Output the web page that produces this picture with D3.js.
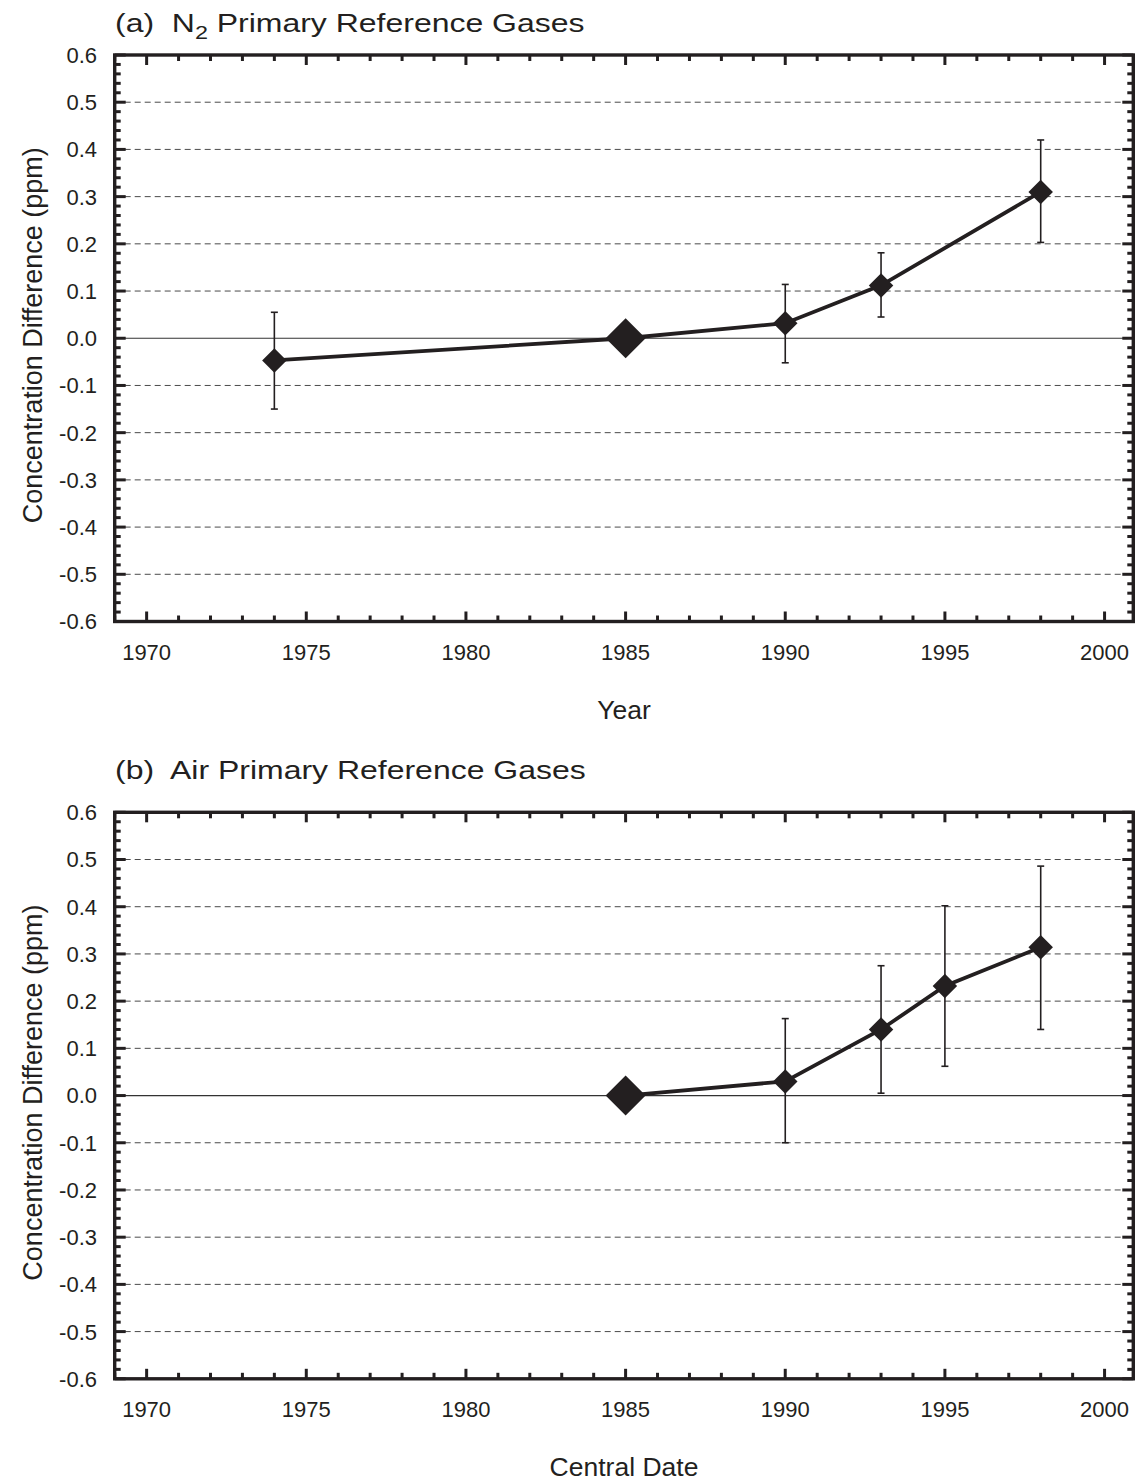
<!DOCTYPE html>
<html>
<head>
<meta charset="utf-8">
<script src="https://cdn.jsdelivr.net/npm/d3@7"></script>
<style>
  body { margin: 0; background: #fff; }
  svg { display: block; font-family: "Liberation Sans", Arial, sans-serif; }
  .title { white-space: pre; }
</style>
</head>
<body>
<div id="chart"></div>
<script>
// DATA
const yearTicks = [1970, 1975, 1980, 1985, 1990, 1995, 2000];
const diffTicks = [0.6, 0.5, 0.4, 0.3, 0.2, 0.1, 0.0, -0.1, -0.2, -0.3, -0.4, -0.5, -0.6];

const n2Year = [1974, 1985, 1990, 1993, 1998];
const n2Diff = [-0.047, 0.0, 0.032, 0.112, 0.31];
const n2Lo = [-0.15, null, -0.052, 0.045, 0.203];
const n2Hi = [0.055, null, 0.114, 0.181, 0.42];

const airYear = [1985, 1990, 1993, 1995, 1998];
const airDiff = [0.0, 0.03, 0.14, 0.232, 0.314];
const airLo = [null, -0.1, 0.005, 0.062, 0.14];
const airHi = [null, 0.163, 0.275, 0.402, 0.486];

const refYear = 1985; // reference point drawn as big diamond

const ink = "#231f20";
const width = 1140,
  height = 1482;

const svg = d3
  .select("#chart")
  .append("svg")
  .attr("width", width)
  .attr("height", height);

const toRows = (yr, v, lo, hi) =>
  yr.map((d, i) => ({ year: d, value: v[i], lo: lo[i], hi: hi[i] }));

const panels = [
  {
    top: 55,
    titleY: 32,
    title: ["(a)  N", "2", " Primary Reference Gases"],
    xLabel: "Year",
    rows: toRows(n2Year, n2Diff, n2Lo, n2Hi),
  },
  {
    top: 812.3,
    titleY: 778.5,
    title: ["(b)  Air Primary Reference Gases"],
    xLabel: "Central Date",
    rows: toRows(airYear, airDiff, airLo, airHi),
  },
];

const fmt = (d) => d3.format(".1f")(d).replace("−", "-");

function drawPanel(p) {
  const left = 114.7,
    right = 1133.3,
    top = p.top,
    bottom = p.top + 566.5;

  const x = d3.scaleLinear().domain([1969, 2000.9]).range([left, right]);
  const y = d3.scaleLinear().domain([-0.6, 0.6]).range([bottom, top]);

  const g = svg.append("g");

  // grid lines
  g.selectAll("line.grid")
    .data(diffTicks.filter((d) => Math.abs(d) < 0.55 && d !== 0))
    .join("line")
    .attr("class", "grid")
    .attr("x1", left)
    .attr("x2", right)
    .attr("y1", (d) => y(d))
    .attr("y2", (d) => y(d))
    .attr("stroke", "#4a4a4a")
    .attr("stroke-width", 1)
    .attr("stroke-dasharray", "6,4");

  g.append("line")
    .attr("x1", left)
    .attr("x2", right)
    .attr("y1", y(0))
    .attr("y2", y(0))
    .attr("stroke", "#333")
    .attr("stroke-width", 1.2);

  // inward ticks on all four sides
  const minorY = d3.range(-30, 31).map((i) => i * 0.02);
  const minorX = d3.range(1969, 2001);

  const tickLayer = g.append("g").attr("stroke", ink).attr("stroke-width", 3);

  const yTicks = [
    { side: left, dir: 1 },
    { side: right, dir: -1 },
  ];
  yTicks.forEach((s) => {
    tickLayer
      .append("g")
      .selectAll("line")
      .data(minorY)
      .join("line")
      .attr("x1", s.side)
      .attr("x2", (d) => {
        const major = Math.abs(Math.round(d * 10) - d * 10) < 1e-6;
        return s.side + s.dir * (major ? 11 : 6);
      })
      .attr("y1", (d) => y(d))
      .attr("y2", (d) => y(d));
  });

  const xTicks = [
    { side: bottom, dir: -1 },
    { side: top, dir: 1 },
  ];
  xTicks.forEach((s) => {
    tickLayer
      .append("g")
      .selectAll("line")
      .data(minorX)
      .join("line")
      .attr("x1", (d) => x(d))
      .attr("x2", (d) => x(d))
      .attr("y1", s.side)
      .attr("y2", (d) => s.side + s.dir * (d % 5 === 0 ? 10 : 6));
  });

  // frame
  g.append("rect")
    .attr("x", left)
    .attr("y", top)
    .attr("width", right - left)
    .attr("height", bottom - top)
    .attr("fill", "none")
    .attr("stroke", ink)
    .attr("stroke-width", 3.4);

  // tick labels
  g.append("g")
    .selectAll("text")
    .data(diffTicks)
    .join("text")
    .attr("x", 97)
    .attr("y", (d) => y(d))
    .attr("dy", "0.36em")
    .attr("text-anchor", "end")
    .attr("font-size", 22)
    .attr("fill", ink)
    .text(fmt);

  g.append("g")
    .selectAll("text")
    .data(yearTicks)
    .join("text")
    .attr("x", (d) => x(d))
    .attr("y", bottom + 38.5)
    .attr("text-anchor", "middle")
    .attr("font-size", 22)
    .attr("fill", ink)
    .text((d) => d);

  // axis titles
  g.append("text")
    .attr("transform", `translate(41.5,${(top + bottom) / 2 - 3}) rotate(-90)`)
    .attr("text-anchor", "middle")
    .attr("font-size", 27)
    .attr("fill", ink)
    .text("Concentration Difference (ppm)");

  g.append("text")
    .attr("x", 624)
    .attr("y", bottom + 97.5)
    .attr("text-anchor", "middle")
    .attr("font-size", 26.5)
    .attr("fill", ink)
    .text(p.xLabel);

  // panel title (the original lettering is set wide)
  const sx = 1.23;
  const title = g
    .append("text")
    .attr("class", "title")
    .attr("transform", `translate(115,${p.titleY}) scale(${sx},1)`)
    .attr("font-size", 26)
    .attr("fill", ink);
  title.append("tspan").text(p.title[0]);
  if (p.title.length > 1) {
    title.append("tspan").attr("font-size", 19).attr("dy", 7).text(p.title[1]);
    title.append("tspan").attr("dy", -7).text(p.title[2]);
  }

  // error bars
  const eb = g
    .append("g")
    .selectAll("g")
    .data(p.rows.filter((d) => d.lo !== null))
    .join("g")
    .attr("stroke", ink)
    .attr("stroke-width", 1.6);

  eb.append("line")
    .attr("x1", (d) => x(d.year))
    .attr("x2", (d) => x(d.year))
    .attr("y1", (d) => y(d.lo))
    .attr("y2", (d) => y(d.hi));
  ["lo", "hi"].forEach((k) => {
    eb.append("line")
      .attr("x1", (d) => x(d.year) - 3.5)
      .attr("x2", (d) => x(d.year) + 3.5)
      .attr("y1", (d) => y(d[k]))
      .attr("y2", (d) => y(d[k]));
  });

  // connecting line
  const line = d3
    .line()
    .x((d) => x(d.year))
    .y((d) => y(d.value));

  g.append("path")
    .datum(p.rows)
    .attr("d", line)
    .attr("fill", "none")
    .attr("stroke", ink)
    .attr("stroke-width", 3.8);

  // diamond markers
  const sym = d3.symbol().type(d3.symbolSquare);
  g.append("g")
    .selectAll("path")
    .data(p.rows)
    .join("path")
    .attr(
      "transform",
      (d) => `translate(${x(d.year)},${y(d.value)}) rotate(45)`
    )
    .attr("d", (d) => sym.size(d.year === refYear ? 800 : 300)())
    .attr("fill", ink);
}

panels.forEach(drawPanel);
</script>
</body>
</html>
